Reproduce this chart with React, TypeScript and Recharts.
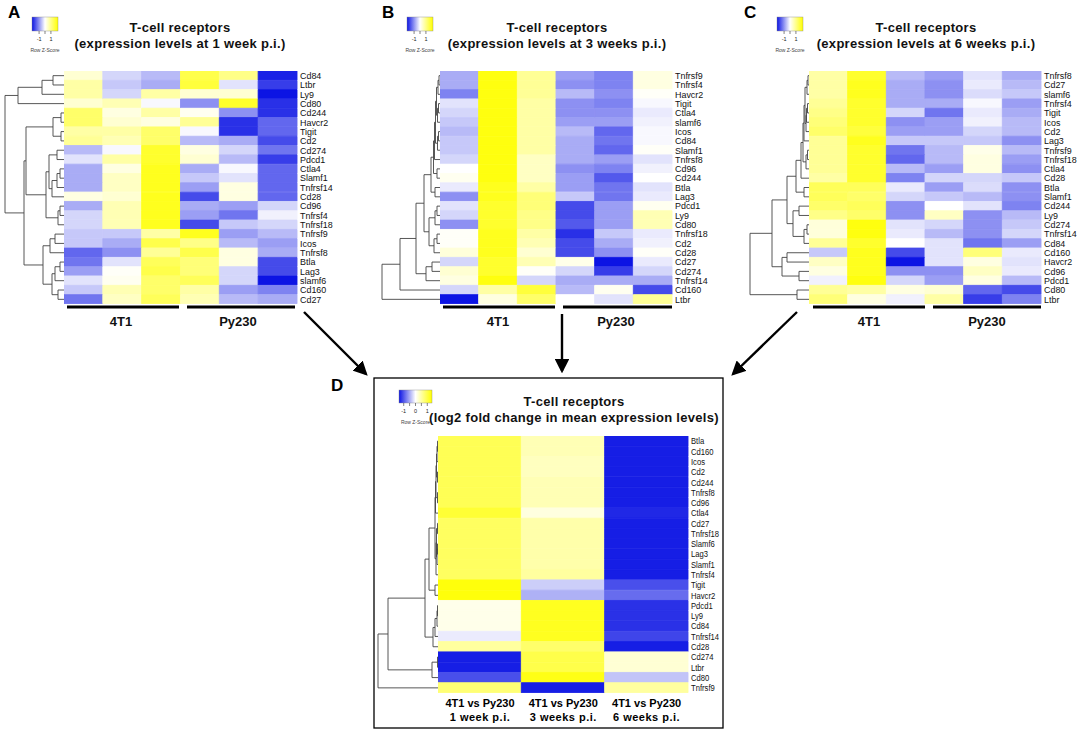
import { BarChart, Bar, Cell, XAxis, YAxis, ScatterChart, Scatter, ReferenceLine } from 'recharts';

const FONT = '"Liberation Sans", Arial, Helvetica, sans-serif';

// ---- panel A: 1 week p.i.
const weekOneGenes = ['Cd84', 'Ltbr', 'Ly9', 'Cd80', 'Cd244', 'Havcr2', 'Tigit', 'Cd2', 'Cd274', 'Pdcd1', 'Ctla4', 'Slamf1', 'Tnfrsf14', 'Cd28', 'Cd96', 'Tnfrsf4', 'Tnfrsf18', 'Tnfrsf9', 'Icos', 'Tnfrsf8', 'Btla', 'Lag3', 'slamf6', 'Cd160', 'Cd27'];
const weekOneZ = [
  [0.3, -0.3, -0.5, 1.2, 0.8, -1.6],
  [0.6, -0.4, -0.6, 1.3, -0.2, -1.4],
  [0.6, -0.3, 0.6, 0.3, 0.3, -1.9],
  [0.3, 0.5, -0.05, -0.8, 1.4, -1.5],
  [1.0, 0.2, 0.6, 0.1, -0.8, -1.5],
  [1.0, 0.3, 0.2, 0.7, -1.5, -1.1],
  [0.6, 0.6, 1.0, -0.05, -1.5, -1.1],
  [0.7, 0.5, 1.0, -0.5, -0.6, -1.3],
  [-0.5, -0.05, 1.4, 0.2, -0.3, -1.0],
  [-0.2, 0.6, 1.4, 0.3, -0.5, -1.4],
  [-0.6, 0.2, 1.5, -0.6, -0.05, -1.1],
  [-0.6, 0.4, 1.5, -0.4, -0.2, -1.1],
  [-0.6, 0.4, 1.5, -0.7, 0.2, -1.1],
  [0.2, 0.3, 1.5, -1.3, 0.2, -1.1],
  [-0.6, 0.5, 1.5, -0.6, -0.7, -0.3],
  [-0.3, 0.5, 1.5, -0.7, -1.0, -0.1],
  [-0.3, 0.5, 1.5, -1.3, -0.4, -0.3],
  [-0.4, -0.4, 0.6, 1.5, -0.7, -0.5],
  [-0.4, -0.6, 1.2, 0.8, -0.5, -0.7],
  [-1.1, -0.8, 0.7, 1.2, 0.2, -0.6],
  [-1.0, -0.2, 1.1, 0.9, 0.2, -1.3],
  [-0.7, 0.05, 1.2, 0.9, -0.3, -1.3],
  [-0.2, 0.1, 1.0, 1.1, -0.3, -1.7],
  [-0.4, 0.5, 1.0, 0.6, -0.7, -0.9],
  [-1.0, 0.4, 1.1, 0.5, -0.5, -0.6],
];
// merges: [child, child, height]; child >= 0 is a row, -k is merge k
const weekOneTree = [
  [0, 1, 11], [-1, 2, 22], [-2, 3, 46], [4, 5, 3], [6, 7, 3], [-4, -5, 11],
  [8, 9, 7], [10, 11, 4], [-8, 12, 7], [-9, 13, 12], [-7, -10, 15], [14, 15, 4],
  [-12, 16, 6], [-11, -13, 18], [-6, -14, 38], [17, 18, 9], [-16, 19, 14], [20, 21, 4],
  [-18, 22, 9], [23, 24, 6], [-19, -20, 12], [-17, -21, 21], [-15, -22, 40], [-3, -23, 59],
];

// ---- panel B: 3 weeks p.i.
const weekThreeGenes = ['Tnfrsf9', 'Tnfrsf4', 'Havcr2', 'Tigit', 'Ctla4', 'slamf6', 'Icos', 'Cd84', 'Slamf1', 'Tnfrsf8', 'Cd96', 'Cd244', 'Btla', 'Lag3', 'Pdcd1', 'Ly9', 'Cd80', 'Tnfrsf18', 'Cd2', 'Cd28', 'Cd27', 'Cd274', 'Tnfrsf14', 'Cd160', 'Ltbr'];
const weekThreeZ = [
  [-0.6, 1.6, 0.7, -0.7, -0.9, 0.2],
  [-0.6, 1.6, 0.7, -0.8, -0.9, 0.2],
  [-0.9, 1.6, 0.7, -0.5, -0.8, 0.05],
  [-0.2, 1.6, 0.6, -0.8, -0.9, -0.05],
  [-0.3, 1.6, 0.6, -0.8, -0.8, -0.15],
  [-0.4, 1.6, 0.6, -0.7, -0.7, -0.1],
  [-0.5, 1.6, 0.6, -0.5, -1.1, -0.05],
  [-0.4, 1.6, 0.6, -0.6, -1.0, -0.05],
  [-0.4, 1.6, 0.6, -0.6, -1.1, 0.05],
  [-0.3, 1.6, 0.4, -0.6, -0.7, -0.2],
  [0.0, 1.6, 0.4, -0.8, -0.9, -0.1],
  [0.1, 1.6, 0.4, -0.7, -1.2, 0.0],
  [-0.15, 1.5, 0.6, -0.7, -1.0, -0.2],
  [-0.8, 1.5, 0.9, -0.4, -1.0, -0.15],
  [-0.2, 1.4, 0.9, -1.3, -0.7, 0.1],
  [-0.3, 1.4, 0.8, -1.3, -0.7, 0.5],
  [-0.8, 1.4, 0.8, -1.2, -0.7, 0.5],
  [0.05, 1.5, 0.6, -1.5, -0.4, -0.15],
  [0.05, 1.5, 0.5, -1.3, -0.6, -0.1],
  [0.25, 1.5, 0.3, -1.3, -0.8, 0.05],
  [-0.3, 1.4, 0.5, 0.15, -1.7, -0.15],
  [0.3, 1.4, 0.05, -0.3, -1.4, -0.3],
  [0.2, 1.6, -0.3, -0.6, -0.6, -0.6],
  [-0.3, 0.6, 1.3, -0.5, 0.1, -1.3],
  [-1.8, 0.2, 1.0, 0.0, -0.2, 0.7],
];
const weekThreeTree = [
  [0, 1, 1], [-1, 2, 2], [3, 4, 1.5], [-3, 5, 2.5], [-2, -4, 3.5], [6, 7, 1.5],
  [-6, 8, 2.5], [-5, -7, 4.5], [-8, 9, 5.5], [10, 11, 3], [-9, -10, 6.5], [12, 13, 5],
  [-11, -12, 9], [14, 15, 3], [-14, 16, 5], [17, 18, 3], [-16, 19, 6], [-15, -17, 11],
  [-13, -18, 16], [20, 21, 8], [-20, 22, 14], [-19, -21, 24], [-22, 23, 40], [-23, 24, 58],
];

// ---- panel C: 6 weeks p.i.
const weekSixGenes = ['Tnfrsf8', 'Cd27', 'slamf6', 'Tnfrsf4', 'Tigit', 'Icos', 'Cd2', 'Lag3', 'Tnfrsf9', 'Tnfrsf18', 'Ctla4', 'Cd28', 'Btla', 'Slamf1', 'Cd244', 'Ly9', 'Cd274', 'Tnfrsf14', 'Cd84', 'Cd160', 'Havcr2', 'Cd96', 'Pdcd1', 'Cd80', 'Ltbr'];
const weekSixZ = [
  [0.6, 1.4, -0.5, -0.7, -0.2, -0.6],
  [0.6, 1.5, -0.6, -0.8, -0.15, -0.5],
  [0.6, 1.5, -0.6, -0.8, -0.25, -0.4],
  [0.7, 1.4, -0.6, -0.6, -0.05, -0.7],
  [0.8, 1.4, -0.3, -1.0, -0.15, -0.6],
  [0.9, 1.4, -0.8, -0.7, -0.1, -0.5],
  [1.0, 1.3, -0.7, -0.7, -0.3, -0.5],
  [0.7, 1.5, -0.4, -0.4, -0.4, -0.8],
  [0.7, 1.4, -1.0, -0.5, 0.15, -0.5],
  [0.7, 1.4, -1.1, -0.5, 0.2, -0.7],
  [0.7, 1.4, -0.5, -0.7, 0.2, -0.8],
  [0.6, 1.4, -0.9, -0.3, -0.3, -0.4],
  [1.1, 1.1, -0.15, -0.7, -0.25, -0.8],
  [1.1, 1.0, -0.3, -0.4, -0.5, -0.8],
  [1.0, 1.1, -0.8, 0.0, -0.2, -0.9],
  [0.8, 1.0, -0.8, 0.4, -0.8, -0.5],
  [0.25, 1.6, -0.2, -0.3, -0.8, -0.4],
  [0.25, 1.6, -0.15, -0.5, -0.8, -0.3],
  [0.7, 1.4, 0.0, -0.2, -1.0, -0.7],
  [-0.4, 1.5, -1.3, -0.2, 0.9, -0.15],
  [0.4, 1.5, -1.7, -0.2, 0.2, -0.2],
  [0.2, 1.5, -0.8, -0.8, 0.4, -0.15],
  [-0.1, 1.6, -0.3, -0.7, 0.2, -0.5],
  [0.7, 0.6, 0.2, 0.3, -1.1, -1.3],
  [0.9, 0.2, -0.1, 0.6, -1.4, -0.9],
];
const weekSixTree = [
  [0, 1, 1], [-1, 2, 2], [3, 4, 1.5], [-3, 5, 2.5], [-4, 6, 3], [-2, -5, 4],
  [-6, 7, 5], [8, 9, 1.5], [-8, 10, 3], [-7, -9, 6], [-10, 11, 8], [12, 13, 5],
  [-11, -12, 13], [14, 15, 10], [16, 17, 2], [-15, 18, 5], [-14, -16, 16], [-13, -17, 22],
  [19, 20, 22], [21, 22, 10], [-19, -20, 27], [-18, -21, 37], [23, 24, 12], [-22, -23, 59],
];

// ---- panel D: log2 fold change
const foldGenes = ['Btla', 'Cd160', 'Icos', 'Cd2', 'Cd244', 'Tnfrsf8', 'Cd96', 'Ctla4', 'Cd27', 'Tnfrsf18', 'Slamf6', 'Lag3', 'Slamf1', 'Tnfrsf4', 'Tigit', 'Havcr2', 'Pdcd1', 'Ly9', 'Cd84', 'Tnfrsf14', 'Cd28', 'Cd274', 'Ltbr', 'Cd80', 'Tnfrsf9'];
const foldColumns = [['4T1 vs Py230', '1 week p.i.'], ['4T1 vs Py230', '3 weeks p.i.'], ['4T1 vs Py230', '6 weeks p.i.']];
const foldZ = [
  [0.8, 0.35, -1.15],
  [0.8, 0.35, -1.15],
  [0.8, 0.3, -1.15],
  [0.8, 0.3, -1.15],
  [0.8, 0.35, -1.15],
  [0.8, 0.35, -1.15],
  [0.8, 0.35, -1.15],
  [0.95, 0.15, -1.1],
  [0.75, 0.4, -1.15],
  [0.75, 0.4, -1.15],
  [0.75, 0.4, -1.15],
  [0.75, 0.4, -1.15],
  [0.75, 0.4, -1.15],
  [0.75, 0.45, -1.15],
  [1.15, -0.25, -0.9],
  [1.15, -0.4, -0.75],
  [0.1, 1.05, -1.05],
  [0.1, 1.05, -1.05],
  [0.1, 1.05, -1.05],
  [-0.1, 1.05, -0.95],
  [0.45, 0.7, -1.15],
  [-1.15, 0.85, 0.2],
  [-1.15, 0.85, 0.2],
  [-0.9, 1.1, -0.3],
  [0.65, -1.15, 0.45],
];
const foldTree = [
  [0, 1, 0.5], [-1, 2, 1], [3, 4, 0.5], [-2, -3, 1.5], [5, 6, 0.5], [-4, -5, 2],
  [-6, 7, 2.5], [8, 9, 0.5], [10, 11, 0.5], [-9, 12, 1], [-8, -10, 1.5], [-11, 13, 2],
  [-7, -12, 3], [14, 15, 3], [-13, -14, 9], [16, 17, 0.5], [-16, 18, 1], [-17, 19, 3],
  [-18, 20, 5], [-15, -19, 13], [21, 22, 0.5], [-21, 23, 6], [-20, -22, 50], [-23, 24, 60],
];

const LOW = [12, 20, 228];

function zColor(z: number, limit: number) {
  const t = Math.max(-1, Math.min(1, z / limit));
  if (t < 0) {
    const s = -t;
    const c = LOW.map((v) => Math.round(255 + (v - 255) * s));
    return `rgb(${c[0]},${c[1]},${c[2]})`;
  }
  return `rgb(255,255,${Math.round(255 * (1 - t))})`;
}

function GeneTick(props: any) {
  const { x, y, payload, fontSize, squeeze } = props;
  return (
    <text
      transform={`translate(${x},${y}) scale(${squeeze},1)`}
      dy="0.36em"
      fontSize={fontSize}
      fontFamily={FONT}
      fill="#111"
    >
      {payload.value}
    </text>
  );
}

interface HeatmapProps {
  left: number;
  top: number;
  width: number;
  height: number;
  labelWidth: number;
  genes: string[];
  z: number[][];
  limit: number;
  fontSize: number;
  squeeze: number;
}

function Heatmap({ left, top, width, height, labelWidth, genes, z, limit, fontSize, squeeze }: HeatmapProps) {
  const cols = z[0].map((_, j) => `c${j}`);
  const data = genes.map((gene) => {
    const row: Record<string, any> = { gene };
    cols.forEach((c) => (row[c] = 1));
    return row;
  });
  return (
    <div style={{ position: 'absolute', left, top }}>
      <BarChart
        width={width + labelWidth}
        height={height}
        data={data}
        layout="vertical"
        margin={{ top: 0, right: 0, bottom: 0, left: 0 }}
        barCategoryGap={0}
        barGap={0}
      >
        <XAxis type="number" domain={[0, cols.length]} hide />
        <YAxis
          type="category"
          dataKey="gene"
          orientation="right"
          width={labelWidth}
          axisLine={false}
          tickLine={false}
          tickSize={0}
          tickMargin={3}
          interval={0}
          tick={(p: any) => <GeneTick {...p} fontSize={fontSize} squeeze={squeeze} />}
        />
        {cols.map((c, j) => (
          <Bar key={c} dataKey={c} stackId="cells" isAnimationActive={false}>
            {z.map((row, i) => {
              const fill = zColor(row[j], limit);
              return <Cell key={i} fill={fill} stroke={fill} strokeWidth={0.9} />;
            })}
          </Bar>
        ))}
      </BarChart>
    </div>
  );
}

function treeSegments(merges: number[][]) {
  const nodes: { h: number; y: number }[] = [];
  const pos = (id: number) => (id >= 0 ? { h: 0, y: id } : nodes[-id - 1]);
  const segs: { x: number; y: number }[][] = [];
  merges.forEach(([a, b, h]) => {
    const pa = pos(a);
    const pb = pos(b);
    segs.push([{ x: pa.h, y: pa.y }, { x: h, y: pa.y }]);
    segs.push([{ x: pb.h, y: pb.y }, { x: h, y: pb.y }]);
    segs.push([{ x: h, y: pa.y }, { x: h, y: pb.y }]);
    nodes.push({ h, y: (pa.y + pb.y) / 2 });
  });
  return segs;
}

function Dendrogram({ left, top, width, height, rows, merges }: { left: number; top: number; width: number; height: number; rows: number; merges: number[][] }) {
  const segs = treeSegments(merges);
  const leaves = Array.from({ length: rows }, (_, i) => ({ x: 0, y: i }));
  return (
    <div style={{ position: 'absolute', left, top }}>
      <ScatterChart width={width} height={height} margin={{ top: 0, right: 0, bottom: 0, left: 0 }}>
        <XAxis type="number" dataKey="x" domain={[0, width]} reversed hide />
        <YAxis type="number" dataKey="y" domain={[-0.5, rows - 0.5]} reversed hide />
        <Scatter data={leaves} isAnimationActive={false} shape={() => <g />} />
        {segs.map((s, i) => (
          <ReferenceLine key={i} segment={s} stroke="#444" strokeWidth={0.9} ifOverflow="visible" />
        ))}
      </ScatterChart>
    </div>
  );
}

function ColorKey({ x, y, w, h, span, marks, labels, id }: { x: number; y: number; w: number; h: number; span: number; marks: number[]; labels: number[]; id: string }) {
  const cx = x + w / 2;
  const px = (v: number) => cx + (v / span) * (w / 2);
  return (
    <g>
      <defs>
        <linearGradient id={id} x1="0" x2="1" y1="0" y2="0">
          <stop offset="0%" stopColor={`rgb(${LOW.join(',')})`} />
          <stop offset="50%" stopColor="#ffffff" />
          <stop offset="100%" stopColor="#ffff00" />
        </linearGradient>
      </defs>
      <rect x={x} y={y} width={w} height={h} fill={`url(#${id})`} stroke="#888" strokeWidth={0.4} />
      {marks.map((m) => (
        <line key={m} x1={px(m)} x2={px(m)} y1={y + h} y2={y + h + 3} stroke="#333" strokeWidth={0.6} />
      ))}
      {labels.map((m) => (
        <text key={m} x={px(m)} y={y + h + 10} fontSize={5.5} textAnchor="middle" fontFamily={FONT} fill="#222">
          {m}
        </text>
      ))}
      <text x={cx} y={y + h + 21} fontSize={5} textAnchor="middle" fontFamily={FONT} fill="#444">
        Row Z-Score
      </text>
    </g>
  );
}

const titleStyle = { fontFamily: FONT, fontWeight: 700, fontSize: 13, fill: '#111' } as const;

function Title({ cx, y, lines }: { cx: number; y: number; lines: string[] }) {
  return (
    <g>
      {lines.map((l, i) => (
        <text key={i} x={cx} y={y + i * 15.5} textAnchor="middle" {...titleStyle} letterSpacing={0.3}>
          {l}
        </text>
      ))}
    </g>
  );
}

function GroupBars({ a, b, y }: { a: [number, number, number]; b: [number, number, number]; y: number }) {
  return (
    <g>
      <line x1={a[0]} x2={a[1]} y1={y} y2={y} stroke="#000" strokeWidth={3} />
      <line x1={b[0]} x2={b[1]} y1={y} y2={y} stroke="#000" strokeWidth={3} />
      <text x={a[2]} y={y + 19} textAnchor="middle" {...titleStyle}>4T1</text>
      <text x={b[2]} y={y + 19} textAnchor="middle" {...titleStyle}>Py230</text>
    </g>
  );
}

export default function App() {
  const hmTop = 71;
  const hmH = 233;
  return (
    <div style={{ position: 'absolute', left: 0, top: 0, width: 1084, height: 731, background: '#fff', overflow: 'hidden' }}>
      <svg width={1084} height={731} style={{ position: 'absolute', left: 0, top: 0 }}>
        <defs>
          <marker id="head" markerWidth="6" markerHeight="6" refX="5" refY="3" orient="auto" markerUnits="strokeWidth">
            <path d="M0,0 L6,3 L0,6 Z" fill="#000" />
          </marker>
        </defs>
        {/* panel letters */}
        <text x={8} y={18} fontFamily={FONT} fontWeight={700} fontSize={17}>A</text>
        <text x={382} y={18} fontFamily={FONT} fontWeight={700} fontSize={17}>B</text>
        <text x={744} y={18} fontFamily={FONT} fontWeight={700} fontSize={17}>C</text>
        <text x={331} y={391} fontFamily={FONT} fontWeight={700} fontSize={17}>D</text>

        <ColorKey id="kA" x={32} y={17} w={26} h={14} span={2.2} marks={[-1, 0, 1]} labels={[-1, 1]} />
        <ColorKey id="kB" x={407} y={17} w={26} h={14} span={2.2} marks={[-1, 0, 1]} labels={[-1, 1]} />
        <ColorKey id="kC" x={777} y={17} w={26} h={14} span={2.2} marks={[-1, 0, 1]} labels={[-1, 1]} />
        <ColorKey id="kD" x={399} y={390} w={33} h={13} span={1.4} marks={[-1, -0.5, 0, 0.5, 1]} labels={[-1, 0, 1]} />

        <Title cx={180} y={32} lines={['T-cell receptors', '(expression levels at 1 week p.i.)']} />
        <Title cx={557} y={32} lines={['T-cell receptors', '(expression levels at 3 weeks p.i.)']} />
        <Title cx={926} y={32} lines={['T-cell receptors', '(expression levels at 6 weeks p.i.)']} />
        <Title cx={574} y={406} lines={['T-cell receptors', '(log2 fold change in mean expression levels)']} />

        <GroupBars a={[67, 179, 121]} b={[187, 295, 238]} y={307} />
        <GroupBars a={[443, 555, 498]} b={[563, 672, 616]} y={307} />
        <GroupBars a={[813, 925, 869]} b={[933, 1041, 987]} y={307} />

        {/* arrows into panel D */}
        <line x1={304} y1={312} x2={366} y2={374} stroke="#000" strokeWidth={2.4} markerEnd="url(#head)" />
        <line x1={562} y1={314} x2={562} y2={371} stroke="#000" strokeWidth={2.4} markerEnd="url(#head)" />
        <line x1={797} y1={312} x2={733} y2={374} stroke="#000" strokeWidth={2.4} markerEnd="url(#head)" />

        <rect x={374} y={378} width={349} height={350} fill="none" stroke="#000" strokeWidth={1.3} />

        {foldColumns.map((c, i) => (
          <g key={i}>
            <text x={480 + i * 83.3} y={707} textAnchor="middle" fontFamily={FONT} fontWeight={700} fontSize={11}>{c[0]}</text>
            <text x={480 + i * 83.3} y={721} textAnchor="middle" fontFamily={FONT} fontWeight={700} fontSize={11} letterSpacing={0.5}>{c[1]}</text>
          </g>
        ))}
      </svg>

      <Dendrogram left={4} top={hmTop} width={60} height={hmH} rows={25} merges={weekOneTree} />
      <Heatmap left={64} top={hmTop} width={233} height={hmH} labelWidth={50} genes={weekOneGenes} z={weekOneZ} limit={1.7} fontSize={9.2} squeeze={0.97} />

      <Dendrogram left={380} top={hmTop} width={60} height={hmH} rows={25} merges={weekThreeTree} />
      <Heatmap left={440} top={hmTop} width={232} height={hmH} labelWidth={50} genes={weekThreeGenes} z={weekThreeZ} limit={1.7} fontSize={9.2} squeeze={0.97} />

      <Dendrogram left={749} top={hmTop} width={60} height={hmH} rows={25} merges={weekSixTree} />
      <Heatmap left={809} top={hmTop} width={232} height={hmH} labelWidth={43} genes={weekSixGenes} z={weekSixZ} limit={1.7} fontSize={9.2} squeeze={0.97} />

      <Dendrogram left={377} top={436} width={61} height={257} rows={25} merges={foldTree} />
      <Heatmap left={438} top={436} width={250} height={257} labelWidth={34} genes={foldGenes} z={foldZ} limit={1.2} fontSize={9} squeeze={0.85} />
    </div>
  );
}
